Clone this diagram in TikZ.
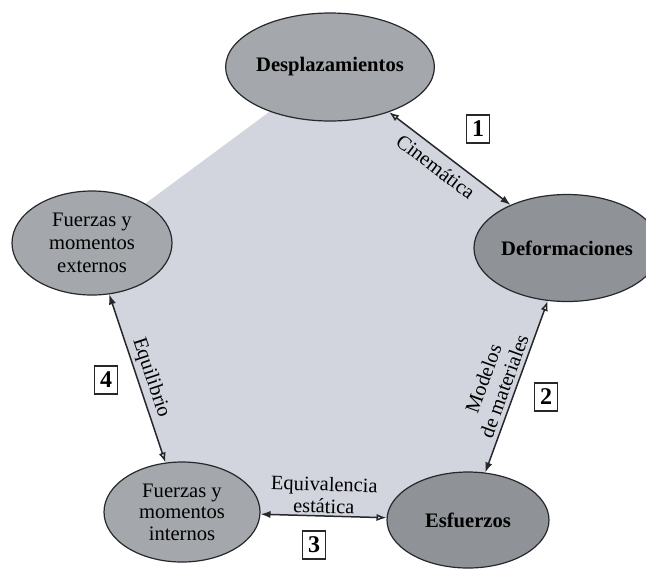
\documentclass[tikz,border=0pt]{standalone}
\usepackage{fontspec}
\setmainfont{Liberation Serif}
\usetikzlibrary{shapes.geometric,arrows.meta}
\definecolor{fondo}{RGB}{210,213,222}
\definecolor{grismedio}{RGB}{164,167,171}
\definecolor{grisoscuro}{RGB}{143,147,151}
\definecolor{borde}{RGB}{38,40,44}
\tikzset{
  globo/.style={ellipse, draw=borde, line width=0.6pt, fill=#1, inner sep=0pt, align=center,
    font=\fontsize{10.3}{11.5}\selectfont},
  negrita/.style={font=\fontsize{10.3}{11.5}\selectfont\bfseries},
  ciclo/.style={draw=borde, line width=0.75pt,
    {Latex[open,length=5pt,width=3.6pt]}-{Latex[length=5pt,width=3.6pt]}},
  etiqueta/.style={font=\fontsize{10.2}{11}\selectfont, align=center, sloped, inner sep=1pt},
  numero/.style={draw=borde, line width=0.8pt, font=\fontsize{12}{12}\selectfont\bfseries,
    minimum width=11.5pt, minimum height=14pt, inner sep=0pt}
}
\begin{document}
\begin{tikzpicture}[x=0.5pt,y=-0.5pt]
  \useasboundingbox (0,0) rectangle (646,569);
  % corners of the shaded pentagon
  \coordinate (cdesp) at (330,67);
  \coordinate (cdefo) at (567,248);
  \coordinate (cesf) at (468,520);
  \coordinate (cint) at (182,512);
  \coordinate (cext) at (92,243);
  \fill[fondo] (cdesp) -- (cdefo) -- (cesf) -- (cint) -- (cext) -- cycle;
  % the five ellipses
  \node[globo=grismedio, negrita, minimum width=82pt, minimum height=54pt] (desp) at (cdesp) {Desplazamientos};
  \node[globo=grisoscuro, negrita, minimum width=81pt, minimum height=53.5pt] (defo) at (cdefo) {Deformaciones};
  \node[globo=grisoscuro, negrita, minimum width=81pt, minimum height=48pt] (esf) at (cesf) {Esfuerzos};
  \node[globo=grismedio, minimum width=78pt, minimum height=50pt, font=\fontsize{10.3}{10.8}\selectfont] (int) at (cint) {Fuerzas y\\momentos\\internos};
  \node[globo=grismedio, minimum width=80pt, minimum height=52pt] (ext) at (cext) {Fuerzas y\\momentos\\externos};
  % arrows with their labels
  \draw[ciclo] (desp) -- node[etiqueta, pos=0.46, below=2.5pt] {Cinemática} (defo);
  \draw[ciclo] (defo) -- node[etiqueta, pos=0.52, above=1pt] {Modelos\\de materiales} (esf);
  \draw[ciclo] (esf) -- node[etiqueta, pos=0.5, above=0pt] {Equivalencia\\estática} (int);
  \draw[ciclo] (int) -- node[etiqueta, pos=0.48, above=0.5pt] {Equilibrio} (ext);
  % numbered boxes
  \node[numero] (n1) at (478,129) {1};
  \node[numero] (n2) at (546,397) {2};
  \node[numero] (n3) at (314,545) {3};
  \node[numero] (n4) at (106,380) {4};
\end{tikzpicture}
\end{document}
